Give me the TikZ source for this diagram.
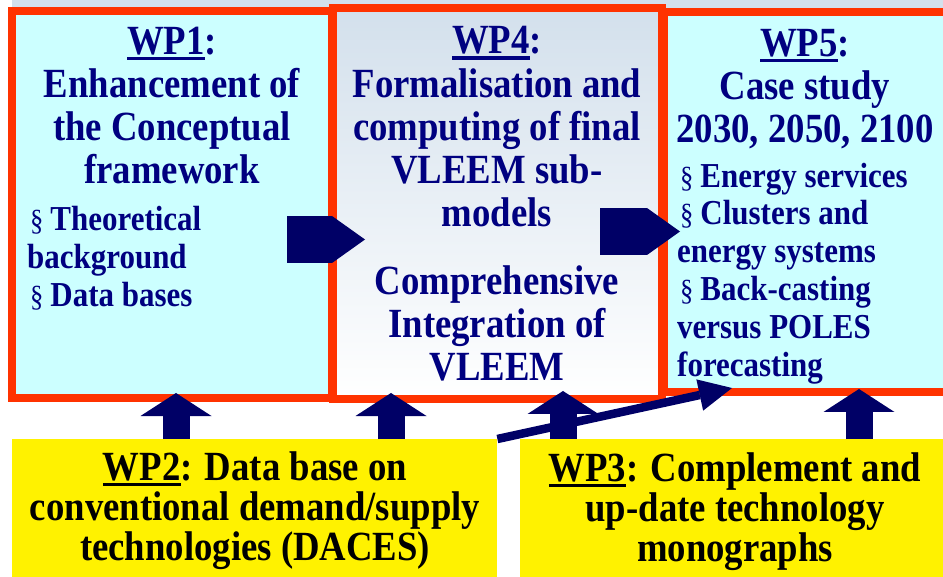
\documentclass[tikz,border=0pt]{standalone}
\usepackage{fontspec}
\setmainfont{Liberation Serif}[FakeStretch=0.885]
\usetikzlibrary{arrows.meta,positioning}
\definecolor{wpred}{HTML}{FF3300}
\definecolor{wpcyan}{HTML}{CCFFFF}
\definecolor{wpnavy}{HTML}{000080}
\definecolor{wparrow}{HTML}{000066}
\definecolor{wpsky}{HTML}{D3E0EC}
\definecolor{wpmist}{HTML}{EEF2F6}
\newcommand\wpline[1]{\setbox0\hbox{#1}\rlap{\rule[-6pt]{\wd0}{3.4pt}}\box0}
\newcommand\sect{\hspace*{3pt}{\mdseries\fontsize{30}{30}\selectfont\S}\hspace{7pt}}
\begin{document}
\begin{tikzpicture}[x=1pt,y=-1pt,
    wpbox/.style={draw=wpred, line width=8pt, fill=wpcyan},
    ybox/.style={fill=yellow, anchor=north west, inner sep=0pt},
    head/.style={text=wpnavy, font=\bfseries\fontsize{41.5}{43.3}\selectfont, align=center, inner sep=0pt, anchor=base},
    items/.style={text=wpnavy, font=\bfseries\fontsize{35}{38}\selectfont, align=left, inner sep=0pt, anchor=base west},
    ytext/.style={text=black, font=\bfseries\fontsize{41.5}{40}\selectfont, align=center, inner sep=0pt, anchor=base},
    uparrow/.style={line width=27pt, wparrow, -{Triangle[width=71pt,length=23pt,line width=0pt]}},
    rarrow/.style={line width=47pt, wparrow, -{Triangle[width=47pt,length=33pt,line width=0pt]}},
    darrow/.style={line width=8.5pt, wparrow, -{Triangle[width=32pt,length=33pt,line width=0pt]}}]
  \useasboundingbox (0,0) rectangle (943,577);
  \fill[wpsky] (12,0) rectangle (943,12);
  % work packages
  \node[wpbox, minimum width=320pt, minimum height=387pt] (wp1) at (172,204.5) {};
  \node[wpbox, minimum width=286.5pt, minimum height=380pt] (wp5) at (806.75,202.5) {};
  \node[wpbox, top color=wpsky, middle color=wpmist, bottom color=white, minimum width=329.5pt, minimum height=390.5pt] (wp4) at (497.25,203.75) {};
  \node[ybox, minimum width=485pt, minimum height=140pt] (wp2) at (12,439) {};
  \node[ybox, minimum width=425pt, minimum height=140pt] (wp3) at (520,439) {};
  % texts (placed at the baseline of their last line)
  \node[head] (wp1head) at (172,184) {\wpline{WP1}:\\Enhancement of\\the Conceptual\\framework};
  \node[items] (wp1items) at (27,307) {\sect Theoretical\\background\\\sect Data bases};
  \node[head] (wp4head) at (497,227) {\wpline{WP4}:\\Formalisation and\\computing of final\\VLEEM sub-\\models};
  \node[head] (wp4int) at (497,381) {Comprehensive\\Integration of\\VLEEM};
  \node[head] (wp5head) at (805,143) {\wpline{WP5}:\\Case study\\2030, 2050, 2100};
  \node[items] (wp5items) at (677,377) {\sect Energy services\\\sect Clusters and\\energy systems\\\sect Back-casting\\versus POLES\\forecasting};
  \node[ytext] (wp2text) at (255,560) {\wpline{WP2}: Data base on\\conventional demand/supply\\technologies (DACES)};
  \node[ytext] (wp3text) at (735,561) {\wpline{WP3}: Complement and\\up-date technology\\monographs};
  % arrows
  \coordinate (up1) at (176,393);
  \coordinate (up2) at (391,393);
  \coordinate (up3) at (563,391);
  \coordinate (up4) at (859,389);
  \coordinate (tip5) at (732,388);
  \foreach \a in {up1,up2,up3,up4}
    \draw[uparrow] (\a |- wp2.north) -- (\a);
  \draw[rarrow] (287,239.5) -- (365,239.5);
  \draw[rarrow] (600,231.5) -- (680,231.5);
  \draw[darrow] (wp2.north east) -- (tip5);
\end{tikzpicture}
\end{document}
